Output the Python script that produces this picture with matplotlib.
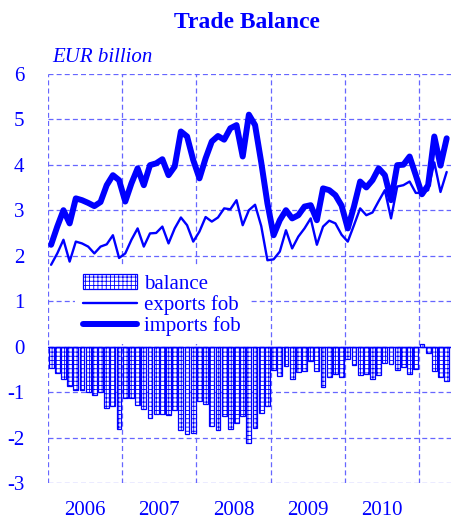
import matplotlib
matplotlib.use("Agg")
import matplotlib.pyplot as plt
import numpy as np

plt.rcParams['font.family'] = ['Liberation Serif', 'DejaVu Serif']
plt.rcParams['axes.unicode_minus'] = False
plt.rcParams['hatch.linewidth'] = 0.6
plt.rcParams['hatch.color'] = '#0000ff'

years = ['2006', '2007', '2008', '2009', '2010']

balance = [-0.47, -0.57, -0.71, -0.86, -0.96, -0.96, -0.99, -1.06, -1.00, -1.34, -1.30, -1.80,
           -1.12, -1.13, -1.29, -1.36, -1.56, -1.47, -1.47, -1.51, -1.40, -1.82, -1.91, -1.89,
           -1.20, -1.27, -1.74, -1.83, -1.53, -1.80, -1.67, -1.52, -2.12, -1.78, -1.45, -1.30,
           -0.51, -0.64, -0.43, -0.70, -0.56, -0.53, -0.31, -0.53, -0.89, -0.67, -0.60, -0.67,
           -0.28, -0.41, -0.62, -0.60, -0.70, -0.62, -0.36, -0.38, -0.52, -0.44, -0.59, -0.48,
           0.07, -0.13, -0.53, -0.67, -0.76]

imports = [2.24, 2.64, 3.00, 2.71, 3.26, 3.22, 3.16, 3.09, 3.18, 3.55, 3.77, 3.66,
           3.19, 3.59, 3.92, 3.55, 3.99, 4.03, 4.12, 3.77, 3.96, 4.73, 4.62, 4.10,
           3.70, 4.14, 4.51, 4.63, 4.55, 4.80, 4.87, 4.18, 5.10, 4.87, 4.05, 3.15,
           2.45, 2.78, 3.00, 2.82, 2.89, 3.08, 3.11, 2.78, 3.48, 3.44, 3.33, 3.10,
           2.60, 3.08, 3.63, 3.50, 3.66, 3.92, 3.77, 3.22, 3.99, 4.00, 4.18, 3.77,
           3.35, 3.55, 4.62, 3.98, 4.58]

exports = [1.80, 2.05, 2.35, 1.87, 2.31, 2.27, 2.20, 2.05, 2.20, 2.25, 2.45, 1.95,
           2.05, 2.35, 2.60, 2.20, 2.49, 2.50, 2.64, 2.27, 2.60, 2.84, 2.67, 2.31,
           2.53, 2.85, 2.75, 2.84, 3.04, 3.02, 3.22, 2.67, 3.00, 3.12, 2.65, 1.90,
           1.92, 2.09, 2.56, 2.16, 2.42, 2.60, 2.82, 2.24, 2.64, 2.77, 2.71, 2.46,
           2.31, 2.67, 3.04, 2.89, 2.95, 3.20, 3.44, 2.82, 3.52, 3.55, 3.63, 3.38,
           3.38, 3.44, 4.05, 3.40, 3.84]

BLUE = '#0000ff'
GRID = '#6666ff'

fig = plt.figure(figsize=(4.51, 5.20), dpi=100)
ax = fig.add_axes([48/451, 1 - 483.2/520, 1 - 48/451, (483.2 - 73.7)/520])

x = np.arange(len(balance))
hb = ax.bar(x, balance, width=0.78, facecolor='white', edgecolor=BLUE, linewidth=0.9,
            hatch='++++', label='balance', zorder=2)
he, = ax.plot(x, exports, color=BLUE, lw=1.7, label='exports fob', zorder=3,
              solid_joinstyle='round', solid_capstyle='round')
hi, = ax.plot(x, imports, color=BLUE, lw=4.3, label='imports fob', zorder=3,
              solid_joinstyle='round', solid_capstyle='round')
ax.axhline(0, color=BLUE, lw=1.0, zorder=4)

ax.set_xlim(-0.5, 64.7)
ax.set_ylim(-3, 6)
ax.set_yticks(range(-3, 7))
ax.set_yticklabels([str(v) for v in range(-3, 7)])
ax.set_xticks([-0.5 + 12 * i for i in range(6)])
ax.set_xticklabels([])
ax.set_xticks([5.5 + 12 * i for i in range(len(years))], minor=True)
ax.set_xticklabels(years, minor=True)
ax.tick_params(axis='both', which='both', length=0, colors=BLUE, labelsize=15)
ax.tick_params(axis='y', pad=17)
ax.tick_params(axis='x', which='minor', pad=13)
ax.grid(True, which='major', color=GRID, linestyle=(0, (4, 2.5)), linewidth=0.9, zorder=0)
ax.set_axisbelow(True)
for s in ax.spines.values():
    s.set_visible(False)

leg = ax.legend([hb, he, hi], ['balance', 'exports fob', 'imports fob'],
                loc='center left', bbox_to_anchor=(0.066, 0.435), fontsize=15,
                frameon=True, facecolor='white', edgecolor='none', framealpha=1,
                handlelength=2.6, handletextpad=0.35, labelspacing=0.05,
                borderaxespad=0, borderpad=0.4)
for t in leg.get_texts():
    t.set_color(BLUE)

fig.text(247/451, 1 - 23/520, 'Trade Balance', ha='center', va='center',
         fontsize=17, fontweight='bold', color=BLUE)
fig.text(52/451, 1 - 57/520, 'EUR billion', ha='left', va='center',
         fontsize=15, fontstyle='italic', color=BLUE)

fig.savefig('out.png', dpi=100)
